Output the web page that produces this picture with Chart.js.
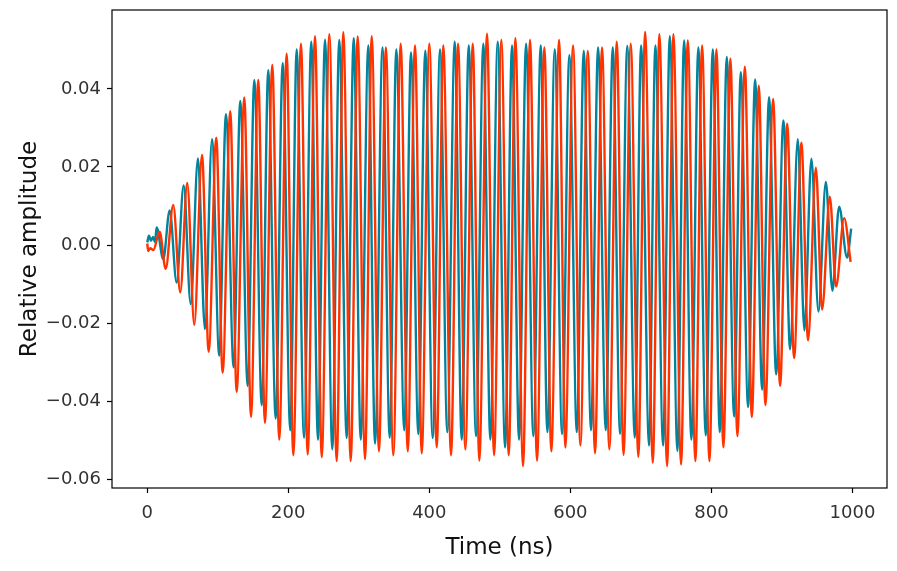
<!DOCTYPE html>
<html>
<head>
<meta charset="utf-8">
<script src="https://cdn.jsdelivr.net/npm/chart.js@4.4.1/dist/chart.umd.min.js"></script>
<style>
  html, body { margin: 0; padding: 0; background: #fff; }
  #wrap { width: 897px; height: 571px; }
</style>
</head>
<body>
<div id="wrap"><canvas id="sig" width="897" height="571"></canvas></div>
<script>
// extremes (time in ns, relative amplitude)
var tealT = [0, 2.4, 5.2, 8.1, 10.9, 13.3,
  22.7, 31.8, 41.7, 51.6, 61.6, 71.9, 81.8, 91.8, 102.1, 111.6, 122.5, 131.9, 142.4, 151.8,
  162.3, 171.6, 182.1, 192.1, 202.8, 211.9, 222.3, 232.6, 242.1, 252.1, 262.4, 272.3, 282.8, 292.8,
  302.7, 313.5, 323.0, 333.6, 343.8, 353.2, 364.5, 374.0, 384.4, 394.3, 404.8, 415.2, 425.5, 436.0,
  445.9, 455.9, 466.2, 476.6, 486.5, 497.0, 507.4, 517.3, 527.2, 537.2, 547.5, 558.0, 567.4, 577.9,
  588.2, 598.6, 609.1, 619.0, 629.3, 639.3, 650.2, 660.1, 670.5, 680.7, 691.3, 700.3, 711.6, 720.6,
  731.5, 741.0, 751.8, 761.3, 771.6, 781.5, 792.0, 802.0, 811.9, 821.8, 832.2, 841.7, 852.0, 862.0,
  871.9, 881.8, 891.8, 902.1, 911.6, 922.5, 931.9, 941.8, 951.8, 962.3, 971.6, 981.1, 992.4, 998.2];
var tealV = [0.0007, 0.0024, 0.0011, 0.0021, 0.0008, 0.0045,
  -0.0036, 0.0089, -0.0096, 0.0153, -0.0151, 0.0222, -0.0215, 0.0271, -0.0283, 0.0335, -0.0313, 0.0369, -0.0361, 0.0423,
  -0.0410, 0.0448, -0.0444, 0.0466, -0.0474, 0.0501, -0.0493, 0.0521, -0.0498, 0.0526, -0.0523, 0.0525, -0.0494, 0.0530,
  -0.0498, 0.0511, -0.0508, 0.0506, -0.0493, 0.0501, -0.0474, 0.0493, -0.0484, 0.0498, -0.0494, 0.0501, -0.0479, 0.0521,
  -0.0498, 0.0511, -0.0489, 0.0516, -0.0498, 0.0521, -0.0518, 0.0511, -0.0498, 0.0516, -0.0489, 0.0511, -0.0479, 0.0501,
  -0.0484, 0.0486, -0.0479, 0.0497, -0.0474, 0.0506, -0.0474, 0.0506, -0.0483, 0.0510, -0.0493, 0.0511, -0.0513, 0.0511,
  -0.0513, 0.0535, -0.0527, 0.0524, -0.0498, 0.0506, -0.0487, 0.0501, -0.0479, 0.0482, -0.0439, 0.0443, -0.0415, 0.0424,
  -0.0370, 0.0379, -0.0331, 0.0319, -0.0267, 0.0271, -0.0219, 0.0221, -0.0170, 0.0162, -0.0117, 0.0098, -0.0032, 0.0042];

var orangeT = [0, 1.4, 4.3, 8.5,
  17.6, 26.1, 36.9, 46.8, 56.7, 66.7, 77.6, 87.1, 97.9, 106.9, 117.7, 126.8, 137.6, 147.1, 157.4, 166.9,
  177.3, 187.2, 197.7, 207.1, 218.0, 227.5, 237.9, 247.4, 258.2, 268.6, 278.0, 288.5, 298.4, 308.8,
  318.3, 328.6, 338.4, 348.9, 359.4, 369.4, 379.7, 389.2, 400.0, 410.5, 419.8, 430.8, 440.7, 451.1,
  461.6, 470.9, 481.8, 491.8, 502.1, 512.6, 522.0, 532.9, 542.8, 552.7, 563.1, 573.0, 584.0, 592.9,
  603.8, 614.2, 624.7, 635.0, 644.9, 655.3, 665.8, 675.4, 685.6, 696.4, 706.0, 716.9, 726.2, 737.2,
  746.1, 757.0, 766.5, 777.3, 786.8, 797.2, 807.1, 817.0, 826.9, 836.9, 847.4, 857.3, 867.2, 876.6,
  887.5, 897.4, 907.4, 917.3, 927.6, 937.1, 948.1, 957.0, 967.9, 976.8, 988.2, 997.4];
var orangeV = [0.0004, -0.0015, -0.0008, -0.0013,
  0.0034, -0.0061, 0.0103, -0.0121, 0.0159, -0.0204, 0.0231, -0.0273, 0.0275, -0.0327, 0.0343, -0.0376, 0.0378, -0.0440, 0.0423, -0.0455,
  0.0461, -0.0498, 0.0490, -0.0538, 0.0516, -0.0536, 0.0535, -0.0543, 0.0540, -0.0553, 0.0545, -0.0553, 0.0534, -0.0548,
  0.0535, -0.0528, 0.0506, -0.0538, 0.0516, -0.0528, 0.0511, -0.0533, 0.0516, -0.0518, 0.0511, -0.0538, 0.0516, -0.0523,
  0.0516, -0.0552, 0.0541, -0.0538, 0.0525, -0.0538, 0.0530, -0.0566, 0.0525, -0.0552, 0.0506, -0.0528, 0.0525, -0.0518,
  0.0511, -0.0513, 0.0497, -0.0533, 0.0506, -0.0523, 0.0521, -0.0537, 0.0516, -0.0542, 0.0546, -0.0557, 0.0540, -0.0566,
  0.0540, -0.0562, 0.0524, -0.0553, 0.0511, -0.0553, 0.0501, -0.0518, 0.0477, -0.0489, 0.0457, -0.0440, 0.0408, -0.0410,
  0.0374, -0.0361, 0.0311, -0.0289, 0.0262, -0.0244, 0.0198, -0.0165, 0.0124, -0.0106, 0.0069, -0.0043];

var xTicks = [0, 200, 400, 600, 800, 1000];
var yTicks = [-0.06, -0.04, -0.02, 0.00, 0.02, 0.04];

function pairs(ts, vs) {
  var n = Math.min(ts.length, vs.length);
  var out = [];
  for (var i = 0; i < n; i++) out.push({ x: ts[i], y: vs[i] });
  return out;
}

var FONT = 'DejaVu Sans';

var frame = {
  id: 'frame',
  afterDatasetsDraw: function(chart) {
    var a = chart.chartArea, ctx = chart.ctx;
    ctx.save();
    ctx.strokeStyle = '#000';
    ctx.lineWidth = 1.2;
    ctx.strokeRect(a.left, a.top, a.right - a.left, a.bottom - a.top);
    ctx.restore();
  }
};

var tickGrid = {
  display: true,
  drawOnChartArea: false,
  drawTicks: true,
  tickLength: 5,
  tickColor: '#000',
  tickWidth: 1.2
};

new Chart(document.getElementById('sig'), {
  type: 'line',
  data: {
    datasets: [
      {
        label: 'orange',
        data: pairs(orangeT, orangeV),
        borderColor: '#ff3300',
        borderWidth: 2.4,
        pointRadius: 0,
        fill: false,
        cubicInterpolationMode: 'monotone',
        order: 0
      },
      {
        label: 'teal',
        data: pairs(tealT, tealV),
        borderColor: '#00839b',
        borderWidth: 2.4,
        pointRadius: 0,
        fill: false,
        cubicInterpolationMode: 'monotone',
        order: 1
      }
    ]
  },
  options: {
    responsive: false,
    animation: false,
    layout: { padding: { top: 10, right: 10, left: 0, bottom: 0 } },
    plugins: { legend: { display: false }, tooltip: { enabled: false } },
    scales: {
      x: {
        type: 'linear',
        min: -50,
        max: 1049,
        afterBuildTicks: function(s) { s.ticks = xTicks.map(function(v) { return { value: v }; }); },
        afterFit: function(s) { s.height = 83; s.paddingLeft = 0; s.paddingRight = 0; },
        grid: tickGrid,
        border: { display: false },
        ticks: {
          autoSkip: false,
          maxRotation: 0,
          padding: 10,
          color: '#333',
          font: { family: FONT, size: 18 },
          callback: function(v) { return String(v); }
        },
        title: {
          display: true,
          text: 'Time (ns)',
          color: '#111',
          font: { family: FONT, size: 23 },
          padding: { top: 0, bottom: 9 }
        }
      },
      y: {
        type: 'linear',
        min: -0.0622,
        max: 0.0602,
        afterBuildTicks: function(s) { s.ticks = yTicks.map(function(v) { return { value: v }; }); },
        afterFit: function(s) { s.width = 112; s.paddingTop = 0; s.paddingBottom = 0; },
        grid: tickGrid,
        border: { display: false },
        ticks: {
          autoSkip: false,
          padding: 6,
          color: '#333',
          font: { family: FONT, size: 18 },
          callback: function(v) { return (v < -1e-9 ? '\u2212' : '') + Math.abs(v).toFixed(2); }
        },
        title: {
          display: true,
          text: 'Relative amplitude',
          color: '#111',
          font: { family: FONT, size: 23 },
          padding: { top: 16, bottom: 0 }
        }
      }
    }
  },
  plugins: [frame]
});
</script>
</body>
</html>
